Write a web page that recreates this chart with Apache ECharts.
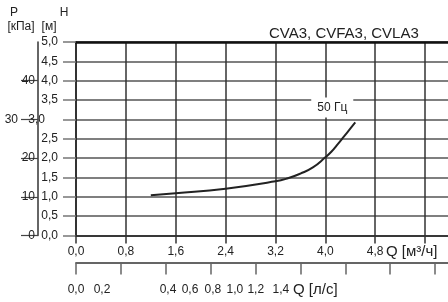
<!DOCTYPE html>
<html>
<head>
<meta charset="utf-8">
<script src="https://cdn.jsdelivr.net/npm/echarts@6/dist/echarts.min.js"></script>
<style>
html,body{margin:0;padding:0;background:#fff;}
#chart{width:448px;height:302px;}
</style>
</head>
<body>
<div id="chart"></div>
<script>
// кривая 50 Гц: Q [м3/ч] и H [м]
var flow = [1.2, 1.6, 2.4, 3.2, 3.4, 3.6, 3.8, 4.0, 4.1, 4.2, 4.3, 4.4, 4.48]
var head = [1.04, 1.09, 1.21, 1.40, 1.48, 1.60, 1.76, 2.02, 2.17, 2.36, 2.56, 2.76, 2.92]
var curveName = '50 Гц'
var title = 'CVA3, CVFA3, CVLA3'
// шкала л/с: подписи и где они напечатаны (в л/с)
var lsLabels = ['0,0', '0,2', '0,4', '0,6', '0,8', '1,0', '1,2', '1,4']
var lsLabelAt = [0, 0.116, 0.41, 0.508, 0.61, 0.708, 0.801, 0.913]

var font = '"Liberation Sans", Arial, sans-serif'
function comma(v) { return v.toFixed(1).replace('.', ',') }

var data = flow.map(function (q, i) { return [q, head[i]] })
var last = data.length - 1
data[last] = {
  value: data[last],
  label: {
    show: true, formatter: curveName, position: 'top', distance: 5, offset: [-23, 0],
    backgroundColor: '#fff', padding: [4, 6], fontSize: 12, color: '#222', fontFamily: font
  }
}

var chart = echarts.init(document.getElementById('chart'))
chart.setOption({
  animation: false,
  title: {
    text: title, left: 264, top: 21,
    textStyle: { fontSize: 15, fontWeight: 'normal', color: '#222', fontFamily: font }
  },
  grid: { left: 76, top: 42, width: 374, height: 193.5, containLabel: false, outerBoundsMode: 'none' },
  xAxis: [
    {
      type: 'value', min: 0, max: 6, interval: 0.8, position: 'bottom',
      axisLine: { show: true, onZero: false, lineStyle: { color: '#222', width: 1.5 } },
      axisTick: { show: true, length: 8, lineStyle: { color: '#333', width: 1.5 } },
      splitLine: { show: true, lineStyle: { color: '#333', width: 1.5 } },
      axisLabel: {
        margin: 10, fontSize: 12, color: '#222', fontFamily: font, showMaxLabel: false,
        formatter: function (v) { return v > 5 ? '' : comma(v) }
      }
    },
    {
      type: 'value', min: 0, max: 6 / 3.6, interval: 0.2, position: 'bottom', offset: 27,
      axisLine: { show: true, onZero: false, lineStyle: { color: '#333', width: 1.5 } },
      axisTick: { show: true, length: 12, lineStyle: { color: '#666', width: 1.5 } },
      axisLabel: { show: false },
      splitLine: { show: false }
    },
    {
      type: 'value', min: 0, max: 6, position: 'top',
      axisLine: { show: true, onZero: false, lineStyle: { color: '#111', width: 2.5 } },
      axisTick: { show: false }, axisLabel: { show: false }, splitLine: { show: false }
    }
  ],
  yAxis: [
    {
      type: 'value', min: 0, max: 5, interval: 0.5, position: 'left',
      axisLine: { show: true, onZero: false, lineStyle: { color: '#222', width: 1.5 } },
      axisTick: { show: true, length: 13, lineStyle: { color: '#777', width: 1.5 } },
      splitLine: { show: true, lineStyle: { color: '#555', width: 1.5 } },
      axisLabel: {
        margin: 18, fontSize: 12, color: '#222', fontFamily: font,
        formatter: function (v) { return v === 3 ? '{s|' + comma(v) + '}' : comma(v) },
        rich: { s: { padding: [0, 13, 0, 0], fontSize: 12, color: '#222', fontFamily: font } }
      }
    },
    {
      type: 'value', min: 0, max: 50, interval: 10, position: 'left', offset: 38,
      axisLine: { show: true, onZero: false, lineStyle: { color: '#333', width: 1.5 } },
      axisTick: { show: true, length: 17, lineStyle: { color: '#444', width: 1.2 } },
      splitLine: { show: false },
      axisLabel: {
        margin: 3, fontSize: 12, color: '#222', fontFamily: font, showMaxLabel: false,
        formatter: function (v) { return v === 30 ? '{s|30}' : String(v) },
        rich: { s: { padding: [0, 17, 0, 0], fontSize: 12, color: '#222', fontFamily: font } }
      }
    }
  ],
  series: [{
    name: curveName, type: 'line', xAxisIndex: 0, yAxisIndex: 0,
    smooth: true, symbol: 'circle', symbolSize: 0, showSymbol: true,
    lineStyle: { color: '#222', width: 2 },
    itemStyle: { color: '#222' },
    emphasis: { disabled: true },
    data: data
  }]
})

// подписи осей и шкала л/с
function txt(t, x, y, size, align) {
  return {
    type: 'text', x: x, y: y, z: 10,
    style: { text: t, fill: '#222', font: size + 'px ' + font, textAlign: align || 'left', textVerticalAlign: 'middle' }
  }
}
var texts = [
  txt('P', 14, 13, 12, 'center'),
  txt('H', 64, 13, 12, 'center'),
  txt('[кПа]', 21, 27, 12, 'center'),
  txt('[м]', 49, 27, 12, 'center'),
  txt('Q [м³/ч]', 386, 252, 15),
  txt('Q [л/с]', 293, 290, 15)
]
lsLabels.forEach(function (t, i) {
  var x = chart.convertToPixel({ xAxisIndex: 1 }, lsLabelAt[i])
  texts.push(txt(t, x, 290, 12, 'center'))
})
chart.setOption({ graphic: texts })
</script>
</body>
</html>
